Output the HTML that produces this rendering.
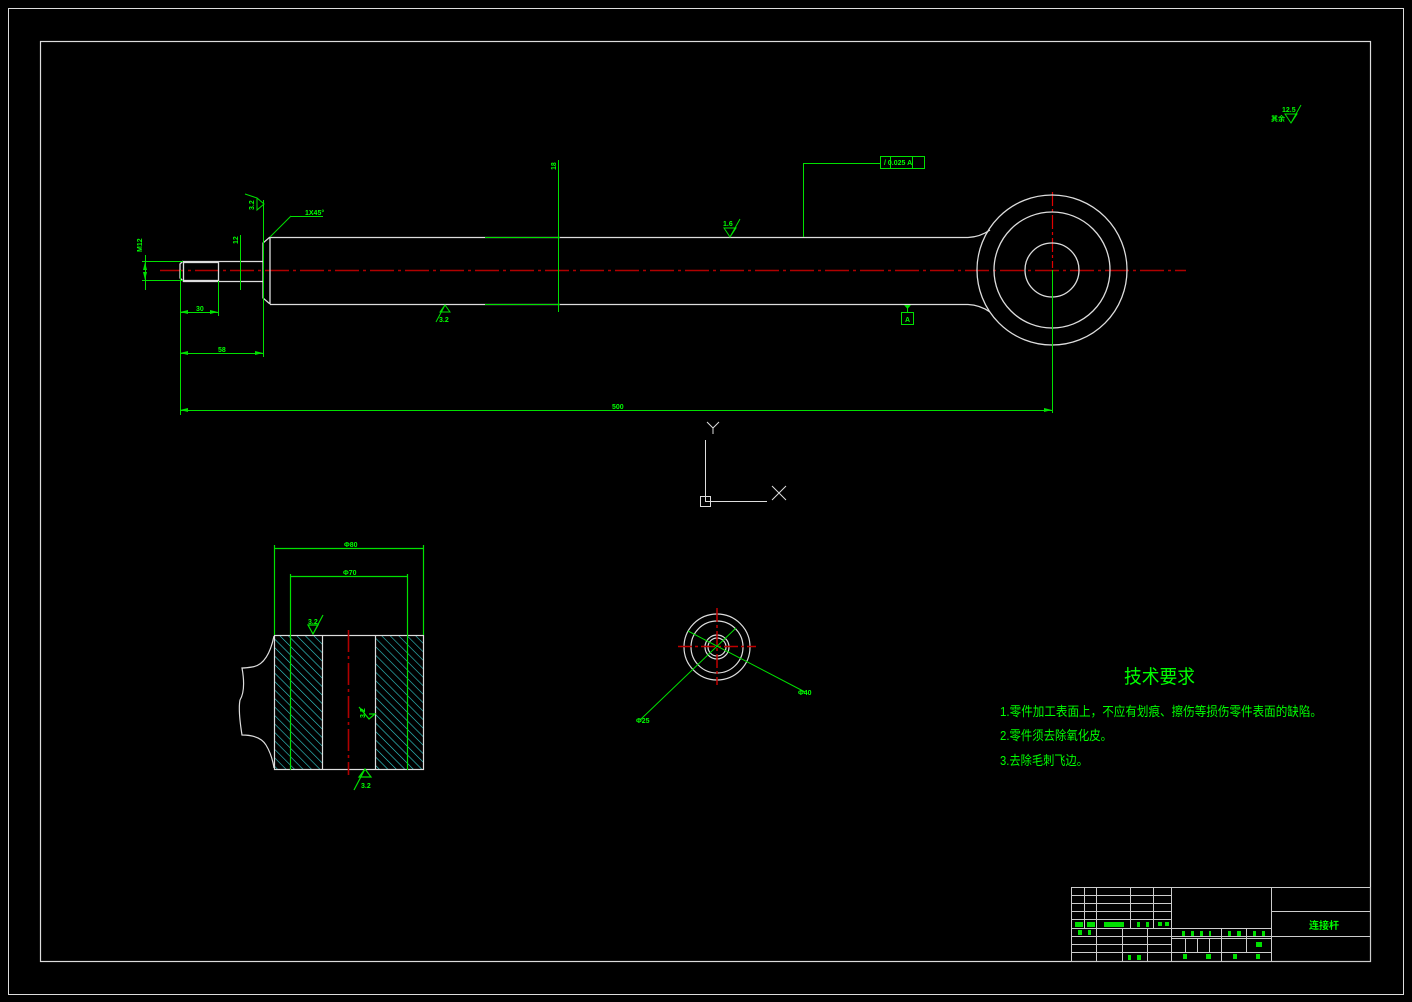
<!DOCTYPE html>
<html><head><meta charset="utf-8"><style>
html,body{margin:0;padding:0;background:#000;width:1412px;height:1002px;overflow:hidden}
svg{display:block}
text{font-family:"Liberation Sans","Noto Sans CJK SC",sans-serif;fill:#00ff00}
</style></head><body>
<svg width="1412" height="1002" viewBox="0 0 1412 1002" xmlns="http://www.w3.org/2000/svg">
<defs>
<pattern id="h" patternUnits="userSpaceOnUse" width="6" height="6" patternTransform="rotate(-45)">
<line x1="0" y1="0" x2="0" y2="6" stroke="#33d0d0" stroke-width="1.2"/>
</pattern>
</defs>
<rect x="8.5" y="8.5" width="1395" height="986" fill="none" stroke="#ddd" stroke-width="1"/>
<rect x="40.5" y="41.5" width="1330" height="920" fill="none" stroke="#ddd" stroke-width="1.2"/>

<line x1="160" y1="270.5" x2="1186" y2="270.5" stroke="#b00000" stroke-width="1.5" stroke-dasharray="24,4,3,4"/>
<line x1="1052.5" y1="192" x2="1052.5" y2="268" stroke="#e00000" stroke-width="1.2" stroke-dasharray="14,3,3,3"/>

<g stroke="#ddd" stroke-width="1.3" fill="none">
<path d="M270,237.5 H968 Q980,237 990,230"/>
<path d="M270,304.5 H968 Q980,305 990,312"/>
<line x1="270" y1="237" x2="270" y2="304"/>
<path d="M270,237 L263,243 V298 L270,304"/>
<line x1="183" y1="261.5" x2="263" y2="261.5"/>
<line x1="183" y1="281.5" x2="263" y2="281.5"/>
<path d="M183,261 L180,264 V278 L183,281"/>
<rect x="183.5" y="262.5" width="35" height="18"/>
<circle cx="1052" cy="270" r="75"/>
<circle cx="1052" cy="270" r="58"/>
<circle cx="1052" cy="270" r="27"/>
</g>

<g stroke="#00e000" stroke-width="1" fill="none">
<line x1="1052.5" y1="270" x2="1052.5" y2="413"/>
<line x1="180.5" y1="270" x2="180.5" y2="415"/>
<line x1="180" y1="410.5" x2="1052" y2="410.5"/>
<line x1="263.5" y1="200" x2="263.5" y2="357"/>
<line x1="180" y1="353.5" x2="263" y2="353.5"/>
<line x1="218.5" y1="281" x2="218.5" y2="316"/>
<line x1="180" y1="312.5" x2="218" y2="312.5"/>
<line x1="145.5" y1="255" x2="145.5" y2="290"/>
<line x1="142" y1="261.5" x2="183" y2="261.5"/>
<line x1="142" y1="280.5" x2="183" y2="280.5"/>
<line x1="240.5" y1="235" x2="240.5" y2="290"/>
<line x1="558.5" y1="160" x2="558.5" y2="312"/>
<line x1="485" y1="237.5" x2="560" y2="237.5"/>
<line x1="485" y1="304.5" x2="560" y2="304.5"/>
<line x1="270" y1="237" x2="291" y2="216"/>
<line x1="291" y1="216.5" x2="323" y2="216.5"/>
<path d="M803.5,237 V163.5 H880"/>
<rect x="880.5" y="156.5" width="44" height="12"/>
<line x1="890.5" y1="156" x2="890.5" y2="168"/>
<line x1="912.5" y1="156" x2="912.5" y2="168"/>
<rect x="901.5" y="312.5" width="12" height="12"/>
<line x1="907.5" y1="306" x2="907.5" y2="312"/>
<path d="M245,194 L257,198 L264,204 L257,210 V198"/>
<path d="M724,228 L730,237 L736,228 Z M730,237 L740,219"/>
<path d="M440,312 L445,305 L450,312 Z M445,305 L436,322"/>
<path d="M1285,114 L1291,123 L1297,114 Z M1291,123 L1301,105"/>
</g>
<g fill="#00e000">
<path d="M904,305 h7 l-3.5,4z"/>
<path d="M180,410 l8,-2 v4z M1052,410 l-8,-2 v4z M180,353 l8,-2 v4z M263,353 l-8,-2 v4z M180,312 l8,-2 v4z M218,312 l-8,-2 v4z M145,262 l-2,8 h4z M145,280 l-2,-8 h4z"/>
</g>
<g font-size="7" font-weight="bold">
<text x="612" y="409">500</text>
<text x="218" y="352">58</text>
<text x="196" y="311">30</text>
<text x="305" y="215">1X45°</text>
<text x="723" y="226">1.6</text>
<text x="439" y="322">3.2</text>
<text x="884" y="165">/ 0.025 A</text>
<text x="905" y="322">A</text>
<text x="1282" y="112">12.5</text>
<text x="1271" y="121">其余</text>
<text x="138" y="248" transform="rotate(-90 142 248)">M12</text>
<text x="234" y="240" transform="rotate(-90 238 240)">12</text>
<text x="552" y="166" transform="rotate(-90 556 166)">18</text>
<text x="244" y="208" transform="rotate(-90 250 204)">3.2</text>
</g>

<g stroke="#ddd" stroke-width="1" fill="none">
<line x1="705.5" y1="440" x2="705.5" y2="501"/>
<line x1="705" y1="501.5" x2="767" y2="501.5"/>
<rect x="700.5" y="496.5" width="10" height="10"/>
<path d="M772,486 L786,500 M786,486 L772,500"/>
<path d="M707,422 L713,428 L719,422 M713,428 V434"/>
</g>

<rect x="274" y="635" width="48" height="134" fill="url(#h)"/>
<rect x="375" y="635" width="48" height="134" fill="url(#h)"/>
<g stroke="#ddd" stroke-width="1.2" fill="none">
<rect x="274.5" y="635.5" width="149" height="134"/>
<line x1="322.5" y1="635" x2="322.5" y2="769"/>
<line x1="375.5" y1="635" x2="375.5" y2="769"/>
<path d="M274,636 Q268,665 252,667 Q246,668 242,668 Q246,690 240,700 Q238,710 242,735 Q260,735 266,745 Q272,755 274,768"/>
</g>
<g stroke="#00e000" stroke-width="1.2" fill="none">
<line x1="290.5" y1="574" x2="290.5" y2="770"/>
<line x1="407.5" y1="574" x2="407.5" y2="770"/>
<line x1="274.5" y1="545" x2="274.5" y2="635"/>
<line x1="423.5" y1="545" x2="423.5" y2="635"/>
<line x1="274" y1="548.5" x2="423" y2="548.5"/>
<line x1="290" y1="576.5" x2="407" y2="576.5"/>
<path d="M308,625 L313,634 L318,625 Z M313,634 L323,615"/>
<path d="M359,777 L365,769 L371,777 Z M365,769 L354,790"/>
<path d="M369,714 L375,714 L369,719 L359,707"/>
</g>
<line x1="348.5" y1="630" x2="348.5" y2="775" stroke="#b00000" stroke-width="1.6" stroke-dasharray="22,4,3,4"/>
<g font-size="7" font-weight="bold">
<text x="344" y="547">Φ80</text>
<text x="343" y="575">Φ70</text>
<text x="308" y="624">3.2</text>
<text x="361" y="788">3.2</text>
<text x="357" y="718" transform="rotate(-90 361 714)">3.2</text>
</g>

<g stroke="#ddd" stroke-width="1.2" fill="none">
<circle cx="717" cy="647" r="33"/>
<circle cx="717" cy="647" r="26"/>
<circle cx="717" cy="647" r="12"/>
<circle cx="717" cy="647" r="9"/>
</g>
<g stroke="#c00000" stroke-width="1.5" stroke-dasharray="14,3,3,3">
<line x1="678" y1="646.5" x2="756" y2="646.5"/>
<line x1="717" y1="608" x2="717" y2="685"/>
</g>
<g stroke="#00e000" stroke-width="1">
<line x1="640" y1="720" x2="736" y2="628"/>
<line x1="688" y1="631" x2="805" y2="692"/>
</g>
<g font-size="7" font-weight="bold">
<text x="636" y="723">Φ25</text>
<text x="798" y="695">Φ40</text>
</g>

<text x="1124" y="683" font-size="19" textLength="71" lengthAdjust="spacingAndGlyphs">技术要求</text>
<g font-size="13">
<text x="1000" y="716" textLength="322" lengthAdjust="spacingAndGlyphs">1.零件加工表面上，不应有划痕、擦伤等损伤零件表面的缺陷。</text>
<text x="1000" y="740" textLength="112" lengthAdjust="spacingAndGlyphs">2.零件须去除氧化皮。</text>
<text x="1000" y="765" textLength="88" lengthAdjust="spacingAndGlyphs">3.去除毛刺飞边。</text>
</g>

<g stroke="#ccc" stroke-width="1" fill="none">
<rect x="1071.5" y="887.5" width="299" height="74"/>
<line x1="1171.5" y1="887" x2="1171.5" y2="961"/>
<line x1="1271.5" y1="887" x2="1271.5" y2="961"/>
<line x1="1271" y1="911.5" x2="1370" y2="911.5"/>
<line x1="1271" y1="936.5" x2="1370" y2="936.5"/>
<line x1="1071" y1="895.5" x2="1171" y2="895.5"/>
<line x1="1071" y1="903.5" x2="1171" y2="903.5"/>
<line x1="1071" y1="911.5" x2="1171" y2="911.5"/>
<line x1="1071" y1="919.5" x2="1171" y2="919.5"/>
<line x1="1071" y1="928.5" x2="1271" y2="928.5"/>
<line x1="1071" y1="936.5" x2="1271" y2="936.5"/>
<line x1="1071" y1="944.5" x2="1171" y2="944.5"/>
<line x1="1071" y1="952.5" x2="1271" y2="952.5"/>
<line x1="1171" y1="938.5" x2="1271" y2="938.5"/>
<line x1="1084.5" y1="887" x2="1084.5" y2="928"/>
<line x1="1096.5" y1="887" x2="1096.5" y2="961"/>
<line x1="1130.5" y1="887" x2="1130.5" y2="928"/>
<line x1="1153.5" y1="887" x2="1153.5" y2="928"/>
<line x1="1122.5" y1="928" x2="1122.5" y2="961"/>
<line x1="1147.5" y1="928" x2="1147.5" y2="961"/>
<line x1="1185.5" y1="938" x2="1185.5" y2="952"/>
<line x1="1197.5" y1="938" x2="1197.5" y2="952"/>
<line x1="1209.5" y1="938" x2="1209.5" y2="952"/>
<line x1="1221.5" y1="928" x2="1221.5" y2="961"/>
<line x1="1246.5" y1="928" x2="1246.5" y2="952"/>
</g>
<g fill="#00e000">
<rect x="1075" y="922" width="8" height="5"/><rect x="1087" y="922" width="8" height="5"/>
<rect x="1104" y="922" width="20" height="5"/><rect x="1137" y="922" width="3" height="5"/><rect x="1146" y="922" width="3" height="5"/>
<rect x="1158" y="922" width="4" height="4"/><rect x="1165" y="922" width="4" height="4"/>
<rect x="1078" y="930" width="4" height="5"/><rect x="1088" y="930" width="3" height="5"/>
<rect x="1182" y="931" width="3" height="5"/><rect x="1191" y="931" width="3" height="5"/><rect x="1200" y="931" width="3" height="5"/><rect x="1209" y="931" width="2" height="5"/>
<rect x="1228" y="931" width="3" height="5"/><rect x="1237" y="931" width="4" height="5"/><rect x="1253" y="931" width="3" height="5"/><rect x="1262" y="931" width="3" height="5"/>
<rect x="1256" y="942" width="6" height="5"/>
<rect x="1183" y="954" width="4" height="5"/><rect x="1206" y="954" width="5" height="5"/><rect x="1233" y="954" width="4" height="5"/><rect x="1256" y="954" width="4" height="5"/>
<rect x="1128" y="955" width="3" height="5"/><rect x="1137" y="955" width="4" height="5"/>
</g>
<text x="1309" y="929" font-size="10" font-weight="bold">连接杆</text>
</svg>
</body></html>
